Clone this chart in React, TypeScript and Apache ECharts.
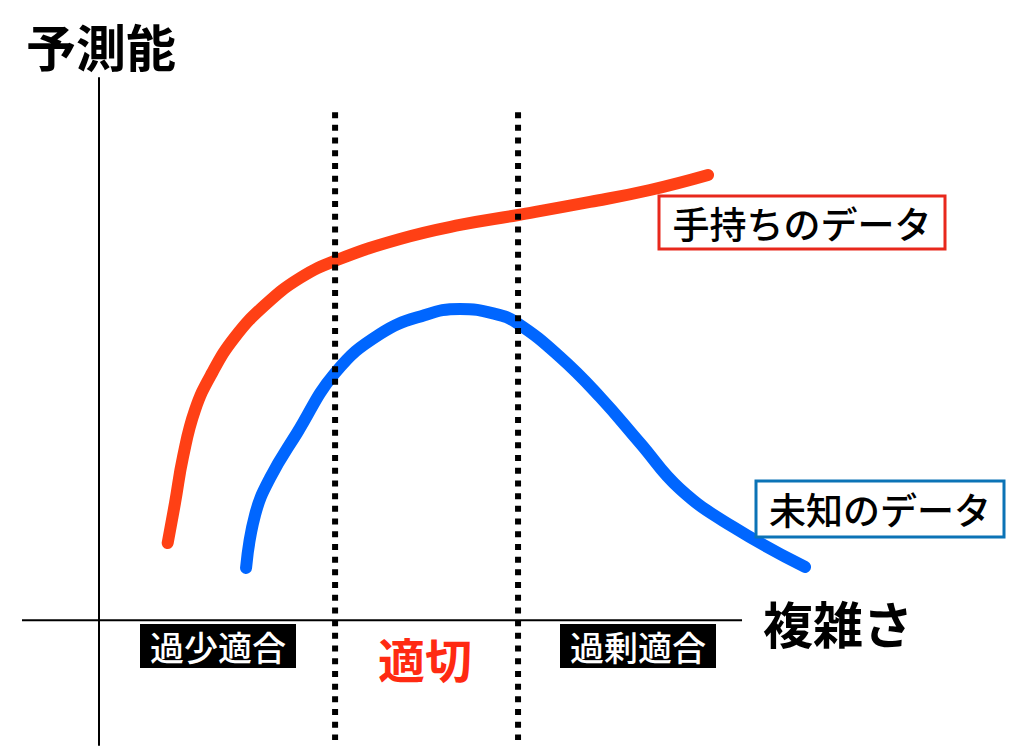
import React, { useEffect, useRef } from "react";
import * as echarts from "echarts";

// complexity (x) vs predictive ability (y), in chart units
const trainX = [10.66, 11.8, 13.04, 14.91, 17.56, 21.13, 25.8, 31.24, 37.0, 46.8, 56.13, 65.16, 76.36, 85.69, 94.71];
const trainY = [14.25, 21.63, 30.11, 38.78, 45.6, 52.24, 58.14, 63.12, 66.44, 70.31, 72.9, 74.74, 77.14, 79.35, 82.12];
const testX = [22.85, 24.25, 26.58, 30.78, 36.69, 43.69, 50.69, 56.13, 61.58, 65.0, 71.69, 77.91, 84.13, 90.36, 98.6, 109.8];
const testY = [9.64, 19.42, 26.24, 34.54, 45.6, 52.8, 56.3, 57.41, 56.5, 54.82, 48.55, 41.18, 32.7, 24.21, 17.21, 9.83];
const boundaryX = [36.7, 65.16];
const boundaryY = [93.7, -22.1];
const xAxisSpan = [-12, 100];

const axisTitleY = "予測能";
const axisTitleX = "複雑さ";
const trainLabel = "手持ちのデータ";
const testLabel = "未知のデータ";
const regionLabels = ["過少適合", "適切", "過剰適合"];

const FONT = '"Noto Sans CJK JP", "Noto Sans", sans-serif';

export default function App() {
  const ref = useRef<HTMLDivElement>(null);
  useEffect(() => {
    if (!ref.current) return;
    const chart = echarts.init(ref.current, undefined, { renderer: "svg" });
    const pair = (xs: number[], ys: number[]) => xs.map((x, i) => [x, ys[i]]);
    const hidden = {
      type: "value" as const,
      axisTick: { show: false },
      axisLabel: { show: false },
      splitLine: { show: false },
    };
    chart.setOption({
      animation: false,
      backgroundColor: "#fff",
      grid: { left: 22, top: 78, width: 800, height: 667 },
      xAxis: { ...hidden, min: -12, max: 112.44, axisLine: { show: false } },
      yAxis: {
        ...hidden,
        min: -23,
        max: 100,
        axisLine: { show: true, onZero: true, lineStyle: { color: "#000", width: 2 } },
      },
      series: [
        {
          type: "line",
          data: xAxisSpan.map((x) => [x, 0]),
          showSymbol: false,
          lineStyle: { color: "#000", width: 2 },
          z: 1,
        },
        {
          type: "line",
          data: pair(trainX, trainY),
          smooth: 0.45,
          showSymbol: false,
          lineStyle: { color: "#ff4015", width: 12, cap: "round" },
          z: 3,
        },
        {
          type: "line",
          data: pair(testX, testY),
          smooth: 0.45,
          showSymbol: false,
          lineStyle: { color: "#0066ff", width: 12, cap: "round" },
          z: 3,
        },
        ...boundaryX.map((bx) => ({
          type: "line",
          data: boundaryY.map((by) => [bx, by]),
          showSymbol: false,
          lineStyle: { color: "#000", width: 6, type: [6, 6.7], cap: "butt" },
          z: 4,
        })),
      ],
      graphic: [
        {
          type: "text", z: 100, x: 101, y: 45,
          style: { text: axisTitleY, font: `bold 50px ${FONT}`, fill: "#000", align: "center", verticalAlign: "middle" },
        },
        {
          type: "text", z: 100, x: 838, y: 622,
          style: { text: axisTitleX, font: `bold 50px ${FONT}`, fill: "#000", align: "center", verticalAlign: "middle" },
        },
        {
          type: "rect", z: 100, shape: { x: 659, y: 196, width: 286, height: 53 },
          style: { fill: "#fff", stroke: "#e8281c", lineWidth: 3 },
        },
        {
          type: "text", z: 101, x: 802, y: 223,
          style: { text: trainLabel, font: `500 37px ${FONT}`, fill: "#000", align: "center", verticalAlign: "middle" },
        },
        {
          type: "rect", z: 100, shape: { x: 756, y: 481, width: 248, height: 56 },
          style: { fill: "#fff", stroke: "#0b73b6", lineWidth: 3 },
        },
        {
          type: "text", z: 101, x: 880, y: 509,
          style: { text: testLabel, font: `500 37px ${FONT}`, fill: "#000", align: "center", verticalAlign: "middle" },
        },
        {
          type: "rect", z: 100, shape: { x: 140, y: 624, width: 156, height: 44 },
          style: { fill: "#000" },
        },
        {
          type: "text", z: 101, x: 218, y: 646,
          style: { text: regionLabels[0], font: `500 34px ${FONT}`, fill: "#fff", align: "center", verticalAlign: "middle" },
        },
        {
          type: "text", z: 101, x: 425, y: 657,
          style: { text: regionLabels[1], font: `bold 47px ${FONT}`, fill: "#ff2a12", align: "center", verticalAlign: "middle" },
        },
        {
          type: "rect", z: 100, shape: { x: 560, y: 624, width: 156, height: 44 },
          style: { fill: "#000" },
        },
        {
          type: "text", z: 101, x: 638, y: 646,
          style: { text: regionLabels[2], font: `500 34px ${FONT}`, fill: "#fff", align: "center", verticalAlign: "middle" },
        },
      ],
    });
    return () => chart.dispose();
  }, []);
  return <div ref={ref} style={{ position: "absolute", left: 0, top: 0, width: 1024, height: 752 }} />;
}
